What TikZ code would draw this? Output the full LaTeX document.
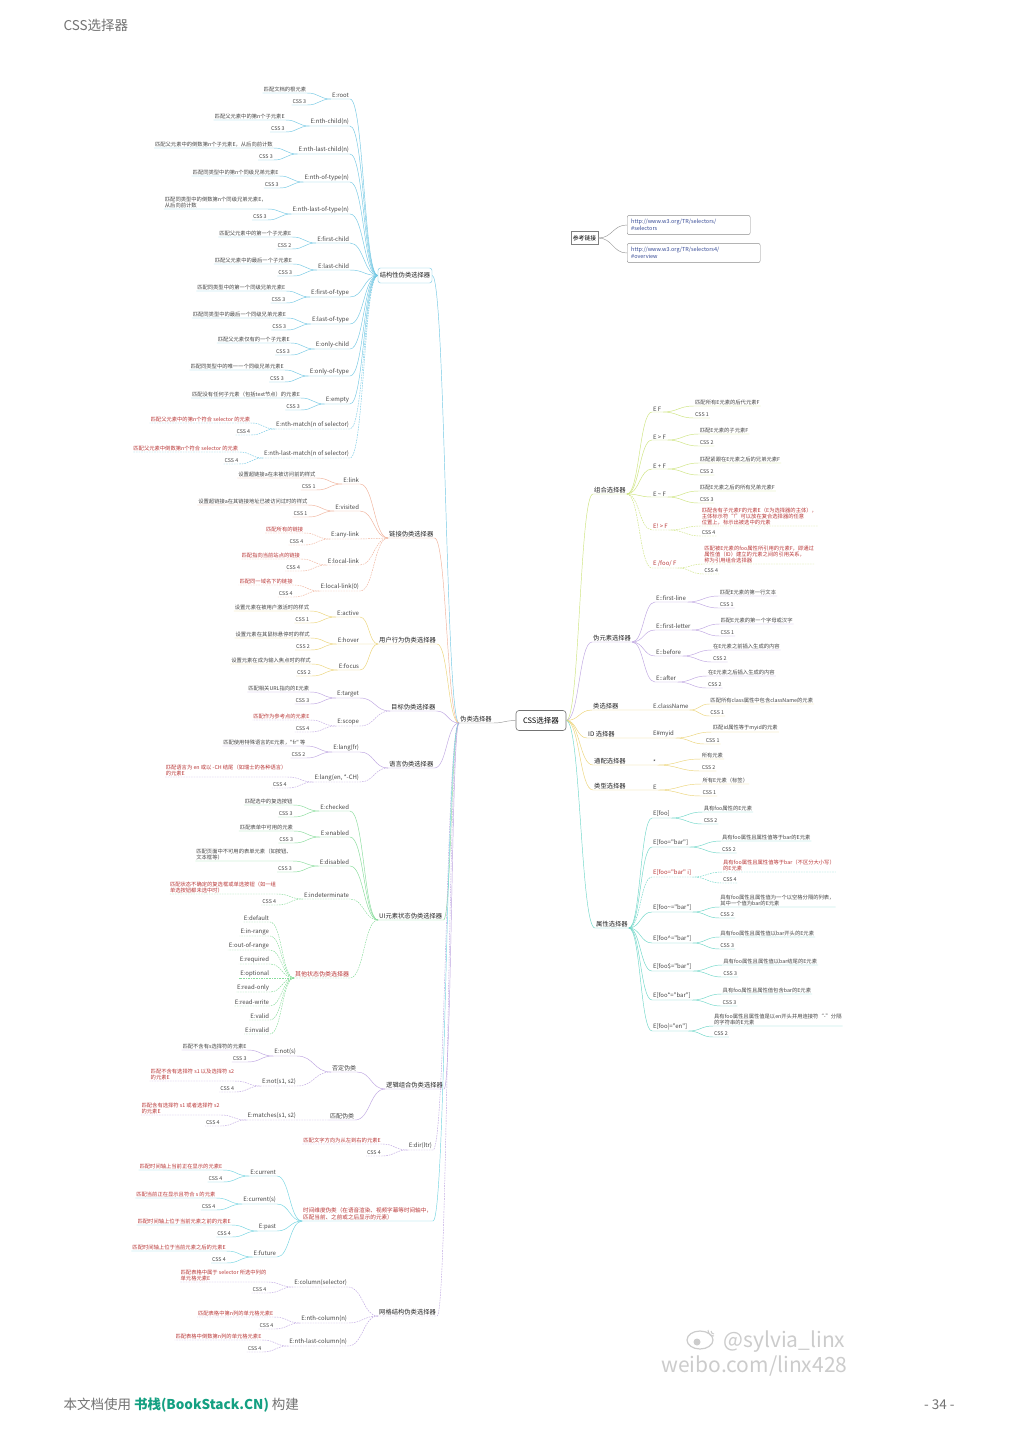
\documentclass[tikz,border=0pt]{standalone}
\usepackage{fontspec}
\setmainfont{Noto Sans CJK SC}[Ligatures=TeXOff]
\usepackage{tikz}
\usetikzlibrary{positioning,calc}

\definecolor{cyanln}{RGB}{115,200,228}
\definecolor{orgln}{RGB}{240,178,155}
\definecolor{yelln}{RGB}{236,212,120}
\definecolor{purln}{RGB}{190,165,225}
\definecolor{grnln}{RGB}{135,220,155}
\definecolor{tealln}{RGB}{115,212,225}
\definecolor{ygrln}{RGB}{205,228,125}
\definecolor{atrln}{RGB}{110,215,200}
\definecolor{cssred}{RGB}{185,55,55}
\definecolor{txtgray}{RGB}{70,70,70}
\definecolor{linkblue}{RGB}{55,75,150}
\definecolor{bsgreen}{RGB}{20,160,130}

\begin{document}
\begin{tikzpicture}[x=1pt, y=-1pt,
    lbl/.style={inner sep=0.8pt, font=\fontsize{6}{7}\selectfont, text=txtgray},
    dsc/.style={inner sep=0.8pt, font=\fontsize{5.3}{6.2}\selectfont, text=txtgray, align=left},
    rd/.style={text=cssred},
    cat/.style={inner sep=1pt, font=\fontsize{6.3}{7.5}\selectfont, text=black!85},
    curv/.style={to path={.. controls ($(\tikztostart)!0.5!(\tikztostart-|\tikztotarget)$) and ($(\tikztotarget)!0.5!(\tikztotarget-|\tikztostart)$) .. (\tikztotarget)}},
    ln/.style={line width=0.45pt},
    blu/.style={ln, draw=cyanln},
    org/.style={ln, draw=orgln},
    yel/.style={ln, draw=yelln},
    pur/.style={ln, draw=purln},
    grn/.style={ln, draw=grnln},
    tea/.style={ln, draw=tealln},
    ygr/.style={ln, draw=ygrln},
    atr/.style={ln, draw=atrln},
    gry/.style={ln, draw=black!40},
    dsh/.style={dash pattern=on 1.6pt off 1pt},
  ]
    \useasboundingbox (0,0) rectangle (1019,1440);
    \fill[white] (0,0) rectangle (1019,1440);

    % page header and footer
    \node[anchor=west, font=\fontsize{13.5}{15}\selectfont, text=black!55] (hd) at (60,25) {CSS选择器};
    \node[anchor=west, font=\fontsize{13.5}{15}\selectfont, text=black!55] (ft) at (60,1405) {本文档使用 \textcolor{bsgreen}{\bfseries 书栈(BookStack.CN)} 构建};
    \node[anchor=east, font=\fontsize{13.5}{15}\selectfont, text=black!55] (pg) at (958,1405) {- 34 -};

    % centre
    \node[draw=black!55, rounded corners=3pt, line width=0.6pt, minimum width=50pt, minimum height=20pt, font=\fontsize{7.5}{9}\selectfont] (css) at (541,720.5) {CSS选择器};
    \node[cat, anchor=south west] (wl) at (459,723) {伪类选择器};
    \draw[gry] (css.west) to[curv] (wl.south east) -- (wl.south west);

    % structural pseudo-classes
    \node[cat, draw=cyanln, rounded corners=2.5pt, minimum width=54pt, minimum height=15pt] (jg) at (405,275.5) {结构性伪类选择器};
    \draw[blu] (wl.south west) to[curv] (jg.east);

    \node[lbl, anchor=south east] (jg1) at (350,99) {E:root};
    \node[dsc, above left=6pt and 24pt of jg1.south west] (jg1d) {匹配文档的根元素};
    \node[dsc, above left=-6pt and 24pt of jg1.south west] (jg1c) {CSS 3};
    \draw[blu] (jg.west) to[curv] (jg1.south east) -- (jg1.south west) to[curv] (jg1d.south east) -- (jg1d.south west) (jg1.south west) to[curv] (jg1c.south east) -- (jg1c.south west);

    \node[lbl, anchor=south east] (jg2) at (350,126) {E:nth-child(n)};
    \node[dsc, above left=6pt and 24pt of jg2.south west] (jg2d) {匹配父元素中的第n个子元素E};
    \node[dsc, above left=-6pt and 24pt of jg2.south west] (jg2c) {CSS 3};
    \draw[blu] (jg.west) to[curv] (jg2.south east) -- (jg2.south west) to[curv] (jg2d.south east) -- (jg2d.south west) (jg2.south west) to[curv] (jg2c.south east) -- (jg2c.south west);

    \node[lbl, anchor=south east] (jg3) at (350,154) {E:nth-last-child(n)};
    \node[dsc, above left=6pt and 24pt of jg3.south west] (jg3d) {匹配父元素中的倒数第n个子元素E，从后向前计数};
    \node[dsc, above left=-6pt and 24pt of jg3.south west] (jg3c) {CSS 3};
    \draw[blu] (jg.west) to[curv] (jg3.south east) -- (jg3.south west) to[curv] (jg3d.south east) -- (jg3d.south west) (jg3.south west) to[curv] (jg3c.south east) -- (jg3c.south west);

    \node[lbl, anchor=south east] (jg4) at (350,182) {E:nth-of-type(n)};
    \node[dsc, above left=6pt and 24pt of jg4.south west] (jg4d) {匹配同类型中的第n个同级兄弟元素E};
    \node[dsc, above left=-6pt and 24pt of jg4.south west] (jg4c) {CSS 3};
    \draw[blu] (jg.west) to[curv] (jg4.south east) -- (jg4.south west) to[curv] (jg4d.south east) -- (jg4d.south west) (jg4.south west) to[curv] (jg4c.south east) -- (jg4c.south west);

    \node[lbl, anchor=south east] (jg5) at (350,214) {E:nth-last-of-type(n)};
    \node[dsc, above left=5pt and 24pt of jg5.south west] (jg5d) {匹配同类型中的倒数第n个同级兄弟元素E，\\从后向前计数};
    \node[dsc, above left=-6pt and 24pt of jg5.south west] (jg5c) {CSS 3};
    \draw[blu] (jg.west) to[curv] (jg5.south east) -- (jg5.south west) to[curv] (jg5d.south east) -- (jg5d.south west) (jg5.south west) to[curv] (jg5c.south east) -- (jg5c.south west);

    \node[lbl, anchor=south east] (jg6) at (350,243) {E:first-child};
    \node[dsc, above left=6pt and 24pt of jg6.south west] (jg6d) {匹配父元素中的第一个子元素E};
    \node[dsc, above left=-6pt and 24pt of jg6.south west] (jg6c) {CSS 2};
    \draw[blu] (jg.west) to[curv] (jg6.south east) -- (jg6.south west) to[curv] (jg6d.south east) -- (jg6d.south west) (jg6.south west) to[curv] (jg6c.south east) -- (jg6c.south west);

    \node[lbl, anchor=south east] (jg7) at (350,270) {E:last-child};
    \node[dsc, above left=6pt and 24pt of jg7.south west] (jg7d) {匹配父元素中的最后一个子元素E};
    \node[dsc, above left=-6pt and 24pt of jg7.south west] (jg7c) {CSS 3};
    \draw[blu] (jg.west) to[curv] (jg7.south east) -- (jg7.south west) to[curv] (jg7d.south east) -- (jg7d.south west) (jg7.south west) to[curv] (jg7c.south east) -- (jg7c.south west);

    \node[lbl, anchor=south east] (jg8) at (350,297) {E:first-of-type};
    \node[dsc, above left=6pt and 24pt of jg8.south west] (jg8d) {匹配同类型中的第一个同级兄弟元素E};
    \node[dsc, above left=-6pt and 24pt of jg8.south west] (jg8c) {CSS 3};
    \draw[blu] (jg.west) to[curv] (jg8.south east) -- (jg8.south west) to[curv] (jg8d.south east) -- (jg8d.south west) (jg8.south west) to[curv] (jg8c.south east) -- (jg8c.south west);

    \node[lbl, anchor=south east] (jg9) at (350,324) {E:last-of-type};
    \node[dsc, above left=6pt and 24pt of jg9.south west] (jg9d) {匹配同类型中的最后一个同级兄弟元素E};
    \node[dsc, above left=-6pt and 24pt of jg9.south west] (jg9c) {CSS 3};
    \draw[blu] (jg.west) to[curv] (jg9.south east) -- (jg9.south west) to[curv] (jg9d.south east) -- (jg9d.south west) (jg9.south west) to[curv] (jg9c.south east) -- (jg9c.south west);

    \node[lbl, anchor=south east] (jg10) at (350,349) {E:only-child};
    \node[dsc, above left=6pt and 24pt of jg10.south west] (jg10d) {匹配父元素仅有的一个子元素E};
    \node[dsc, above left=-6pt and 24pt of jg10.south west] (jg10c) {CSS 3};
    \draw[blu] (jg.west) to[curv] (jg10.south east) -- (jg10.south west) to[curv] (jg10d.south east) -- (jg10d.south west) (jg10.south west) to[curv] (jg10c.south east) -- (jg10c.south west);

    \node[lbl, anchor=south east] (jg11) at (350,376) {E:only-of-type};
    \node[dsc, above left=6pt and 24pt of jg11.south west] (jg11d) {匹配同类型中的唯一一个同级兄弟元素E};
    \node[dsc, above left=-6pt and 24pt of jg11.south west] (jg11c) {CSS 3};
    \draw[blu] (jg.west) to[curv] (jg11.south east) -- (jg11.south west) to[curv] (jg11d.south east) -- (jg11d.south west) (jg11.south west) to[curv] (jg11c.south east) -- (jg11c.south west);

    \node[lbl, anchor=south east] (jg12) at (350,404) {E:empty};
    \node[dsc, above left=6pt and 24pt of jg12.south west] (jg12d) {匹配没有任何子元素（包括text节点）的元素E};
    \node[dsc, above left=-6pt and 24pt of jg12.south west] (jg12c) {CSS 3};
    \draw[blu] (jg.west) to[curv] (jg12.south east) -- (jg12.south west) to[curv] (jg12d.south east) -- (jg12d.south west) (jg12.south west) to[curv] (jg12c.south east) -- (jg12c.south west);

    \node[lbl, anchor=south east] (jg13) at (350,429) {E:nth-match(n of selector)};
    \node[dsc, rd, above left=6pt and 24pt of jg13.south west] (jg13d) {匹配父元素中的第n个符合 selector 的元素};
    \node[dsc, above left=-6pt and 24pt of jg13.south west] (jg13c) {CSS 4};
    \draw[blu, dsh] (jg.west) to[curv] (jg13.south east) -- (jg13.south west) to[curv] (jg13d.south east) -- (jg13d.south west) (jg13.south west) to[curv] (jg13c.south east) -- (jg13c.south west);

    \node[lbl, anchor=south east] (jg14) at (350,458) {E:nth-last-match(n of selector)};
    \node[dsc, rd, above left=6pt and 24pt of jg14.south west] (jg14d) {匹配父元素中倒数第n个符合 selector 的元素};
    \node[dsc, above left=-6pt and 24pt of jg14.south west] (jg14c) {CSS 4};
    \draw[blu, dsh] (jg.west) to[curv] (jg14.south east) -- (jg14.south west) to[curv] (jg14d.south east) -- (jg14d.south west) (jg14.south west) to[curv] (jg14c.south east) -- (jg14c.south west);

    % link pseudo-classes
    \node[cat, anchor=south west] (lj) at (388,538) {链接伪类选择器};
    \draw[org] (wl.south west) to[curv] (lj.south east) -- (lj.south west);

    \node[lbl, anchor=south east] (lj1) at (360,484) {E:link};
    \node[dsc, above left=6pt and 26pt of lj1.south west] (lj1d) {设置超链接a在未被访问前的样式};
    \node[dsc, above left=-6pt and 26pt of lj1.south west] (lj1c) {CSS 1};
    \draw[org] (lj.south west) to[curv] (lj1.south east) -- (lj1.south west) to[curv] (lj1d.south east) -- (lj1d.south west) (lj1.south west) to[curv] (lj1c.south east) -- (lj1c.south west);

    \node[lbl, anchor=south east] (lj2) at (360,511) {E:visited};
    \node[dsc, above left=6pt and 26pt of lj2.south west] (lj2d) {设置超链接a在其链接地址已被访问过时的样式};
    \node[dsc, above left=-6pt and 26pt of lj2.south west] (lj2c) {CSS 1};
    \draw[org] (lj.south west) to[curv] (lj2.south east) -- (lj2.south west) to[curv] (lj2d.south east) -- (lj2d.south west) (lj2.south west) to[curv] (lj2c.south east) -- (lj2c.south west);

    \node[lbl, anchor=south east] (lj3) at (360,539) {E:any-link};
    \node[dsc, rd, above left=6pt and 26pt of lj3.south west] (lj3d) {匹配所有的链接};
    \node[dsc, above left=-6pt and 26pt of lj3.south west] (lj3c) {CSS 4};
    \draw[org, dsh] (lj.south west) to[curv] (lj3.south east) -- (lj3.south west) to[curv] (lj3d.south east) -- (lj3d.south west) (lj3.south west) to[curv] (lj3c.south east) -- (lj3c.south west);

    \node[lbl, anchor=south east] (lj4) at (360,565) {E:local-link};
    \node[dsc, rd, above left=6pt and 26pt of lj4.south west] (lj4d) {匹配指向当前站点的链接};
    \node[dsc, above left=-6pt and 26pt of lj4.south west] (lj4c) {CSS 4};
    \draw[org, dsh] (lj.south west) to[curv] (lj4.south east) -- (lj4.south west) to[curv] (lj4d.south east) -- (lj4d.south west) (lj4.south west) to[curv] (lj4c.south east) -- (lj4c.south west);

    \node[lbl, anchor=south east] (lj5) at (360,591) {E:local-link(0)};
    \node[dsc, rd, above left=6pt and 26pt of lj5.south west] (lj5d) {匹配同一域名下的链接};
    \node[dsc, above left=-6pt and 26pt of lj5.south west] (lj5c) {CSS 4};
    \draw[org, dsh] (lj.south west) to[curv] (lj5.south east) -- (lj5.south west) to[curv] (lj5d.south east) -- (lj5d.south west) (lj5.south west) to[curv] (lj5c.south east) -- (lj5c.south west);

    % user action pseudo-classes
    \node[cat, anchor=south west] (yh) at (378,644) {用户行为伪类选择器};
    \draw[yel] (wl.south west) to[curv] (yh.south east) -- (yh.south west);

    \node[lbl, anchor=south east] (yh1) at (360,617) {E:active};
    \node[dsc, above left=6pt and 26pt of yh1.south west] (yh1d) {设置元素在被用户激活时的样式};
    \node[dsc, above left=-6pt and 26pt of yh1.south west] (yh1c) {CSS 1};
    \draw[yel] (yh.south west) to[curv] (yh1.south east) -- (yh1.south west) to[curv] (yh1d.south east) -- (yh1d.south west) (yh1.south west) to[curv] (yh1c.south east) -- (yh1c.south west);

    \node[lbl, anchor=south east] (yh2) at (360,644) {E:hover};
    \node[dsc, above left=6pt and 26pt of yh2.south west] (yh2d) {设置元素在其鼠标悬停时的样式};
    \node[dsc, above left=-6pt and 26pt of yh2.south west] (yh2c) {CSS 2};
    \draw[yel] (yh.south west) to[curv] (yh2.south east) -- (yh2.south west) to[curv] (yh2d.south east) -- (yh2d.south west) (yh2.south west) to[curv] (yh2c.south east) -- (yh2c.south west);

    \node[lbl, anchor=south east] (yh3) at (360,670) {E:focus};
    \node[dsc, above left=6pt and 26pt of yh3.south west] (yh3d) {设置元素在成为输入焦点时的样式};
    \node[dsc, above left=-6pt and 26pt of yh3.south west] (yh3c) {CSS 2};
    \draw[yel] (yh.south west) to[curv] (yh3.south east) -- (yh3.south west) to[curv] (yh3d.south east) -- (yh3d.south west) (yh3.south west) to[curv] (yh3c.south east) -- (yh3c.south west);

    % target pseudo-classes
    \node[cat, anchor=south west] (mb) at (390,711) {目标伪类选择器};
    \draw[pur] (wl.south west) to[curv] (mb.south east) -- (mb.south west);

    \node[lbl, anchor=south east] (mb1) at (360,698) {E:target};
    \node[dsc, above left=6pt and 26pt of mb1.south west] (mb1d) {匹配相关URL指向的E元素};
    \node[dsc, above left=-6pt and 26pt of mb1.south west] (mb1c) {CSS 3};
    \draw[pur] (mb.south west) to[curv] (mb1.south east) -- (mb1.south west) to[curv] (mb1d.south east) -- (mb1d.south west) (mb1.south west) to[curv] (mb1c.south east) -- (mb1c.south west);

    \node[lbl, anchor=south east] (mb2) at (360,726) {E:scope};
    \node[dsc, rd, above left=6pt and 26pt of mb2.south west] (mb2d) {匹配作为参考点的元素E};
    \node[dsc, above left=-6pt and 26pt of mb2.south west] (mb2c) {CSS 4};
    \draw[pur, dsh] (mb.south west) to[curv] (mb2.south east) -- (mb2.south west) to[curv] (mb2d.south east) -- (mb2d.south west) (mb2.south west) to[curv] (mb2c.south east) -- (mb2c.south west);

    % language pseudo-classes
    \node[cat, anchor=south west] (yy) at (388,768) {语言伪类选择器};
    \draw[pur] (wl.south west) to[curv] (yy.south east) -- (yy.south west);

    \node[lbl, anchor=south east] (yy1) at (360,752) {E:lang(fr)};
    \node[dsc, above left=6pt and 26pt of yy1.south west] (yy1d) {匹配使用特殊语言的E元素，"fr" 等};
    \node[dsc, above left=-6pt and 26pt of yy1.south west] (yy1c) {CSS 2};
    \draw[pur] (yy.south west) to[curv] (yy1.south east) -- (yy1.south west) to[curv] (yy1d.south east) -- (yy1d.south west) (yy1.south west) to[curv] (yy1c.south east) -- (yy1c.south west);

    \node[lbl, anchor=south east] (yy2) at (360,782) {E:lang(en, *-CH)};
    \node[dsc, rd, above left=5pt and 26pt of yy2.south west] (yy2d) {匹配语言为 en 或以 -CH 结尾（如瑞士的各种语言）\\的元素E};
    \node[dsc, above left=-6pt and 26pt of yy2.south west] (yy2c) {CSS 4};
    \draw[pur, dsh] (yy.south west) to[curv] (yy2.south east) -- (yy2.south west) to[curv] (yy2d.south east) -- (yy2d.south west) (yy2.south west) to[curv] (yy2c.south east) -- (yy2c.south west);

    % UI state pseudo-classes
    \node[cat, anchor=south west] (ui) at (378,920) {UI元素状态伪类选择器};
    \draw[grn] (wl.south west) to[curv] (ui.south east) -- (ui.south west);

    \node[lbl, anchor=south east] (ui1) at (350,811) {E:checked};
    \node[dsc, above left=6pt and 26pt of ui1.south west] (ui1d) {匹配选中的复选按钮};
    \node[dsc, above left=-6pt and 26pt of ui1.south west] (ui1c) {CSS 3};
    \draw[grn] (ui.south west) to[curv] (ui1.south east) -- (ui1.south west) to[curv] (ui1d.south east) -- (ui1d.south west) (ui1.south west) to[curv] (ui1c.south east) -- (ui1c.south west);

    \node[lbl, anchor=south east] (ui2) at (350,837) {E:enabled};
    \node[dsc, above left=6pt and 26pt of ui2.south west] (ui2d) {匹配表单中可用的元素};
    \node[dsc, above left=-6pt and 26pt of ui2.south west] (ui2c) {CSS 3};
    \draw[grn] (ui.south west) to[curv] (ui2.south east) -- (ui2.south west) to[curv] (ui2d.south east) -- (ui2d.south west) (ui2.south west) to[curv] (ui2c.south east) -- (ui2c.south west);

    \node[lbl, anchor=south east] (ui3) at (350,866) {E:disabled};
    \node[dsc, above left=5pt and 26pt of ui3.south west] (ui3d) {匹配页面中不可用的表单元素（如按钮、\\文本框等）};
    \node[dsc, above left=-6pt and 26pt of ui3.south west] (ui3c) {CSS 3};
    \draw[grn] (ui.south west) to[curv] (ui3.south east) -- (ui3.south west) to[curv] (ui3d.south east) -- (ui3d.south west) (ui3.south west) to[curv] (ui3c.south east) -- (ui3c.south west);

    \node[lbl, anchor=south east] (ui4) at (350,899) {E:indeterminate};
    \node[dsc, rd, above left=5pt and 26pt of ui4.south west] (ui4d) {匹配状态不确定的复选框或单选按钮（如一组\\单选按钮都未选中时）};
    \node[dsc, above left=-6pt and 26pt of ui4.south west] (ui4c) {CSS 4};
    \draw[grn, dsh] (ui.south west) to[curv] (ui4.south east) -- (ui4.south west) to[curv] (ui4d.south east) -- (ui4d.south west) (ui4.south west) to[curv] (ui4c.south east) -- (ui4c.south west);

    \node[lbl, rd, anchor=south east] (qt) at (350,978) {其他状态伪类选择器};
    \draw[grn, dsh] (ui.south west) to[curv] (qt.south east) -- (qt.south west);
    \node[lbl, anchor=south east] (qt1) at (270,922) {E:default};
    \node[lbl, anchor=south east] (qt2) at (270,936) {E:in-range};
    \node[lbl, anchor=south east] (qt3) at (270,950) {E:out-of-range};
    \node[lbl, anchor=south east] (qt4) at (270,964) {E:required};
    \node[lbl, anchor=south east] (qt5) at (270,978) {E:optional};
    \node[lbl, anchor=south east] (qt6) at (270,992) {E:read-only};
    \node[lbl, anchor=south east] (qt7) at (270,1006) {E:read-write};
    \node[lbl, anchor=south east] (qt8) at (270,1020) {E:valid};
    \node[lbl, anchor=south east] (qt9) at (270,1034) {E:invalid};
    \draw[grn, dsh] (qt.south west) to[curv] (qt1.south east) -- (qt1.south west);
    \draw[grn, dsh] (qt.south west) to[curv] (qt2.south east) -- (qt2.south west);
    \draw[grn, dsh] (qt.south west) to[curv] (qt3.south east) -- (qt3.south west);
    \draw[grn, dsh] (qt.south west) to[curv] (qt4.south east) -- (qt4.south west);
    \draw[grn, dsh] (qt.south west) to[curv] (qt5.south east) -- (qt5.south west);
    \draw[grn, dsh] (qt.south west) to[curv] (qt6.south east) -- (qt6.south west);
    \draw[grn, dsh] (qt.south west) to[curv] (qt7.south east) -- (qt7.south west);
    \draw[grn, dsh] (qt.south west) to[curv] (qt8.south east) -- (qt8.south west);
    \draw[grn, dsh] (qt.south west) to[curv] (qt9.south east) -- (qt9.south west);

    % logical combination pseudo-classes
    \node[cat, anchor=south west] (lz) at (385,1089) {逻辑组合伪类选择器};
    \draw[pur] (wl.south west) to[curv] (lz.south east) -- (lz.south west);

    \node[lbl, anchor=south east] (fd) at (357,1072) {否定伪类};
    \draw[pur] (lz.south west) to[curv] (fd.south east) -- (fd.south west);
    \node[lbl, anchor=south east] (fd1) at (297,1056) {E:not(s)};
    \node[dsc, above left=6pt and 26pt of fd1.south west] (fd1d) {匹配不含有s选择符的元素E};
    \node[dsc, above left=-6pt and 26pt of fd1.south west] (fd1c) {CSS 3};
    \draw[pur] (fd.south west) to[curv] (fd1.south east) -- (fd1.south west) to[curv] (fd1d.south east) -- (fd1d.south west) (fd1.south west) to[curv] (fd1c.south east) -- (fd1c.south west);
    \node[lbl, anchor=south east] (fd2) at (297,1086) {E:not(s1, s2)};
    \node[dsc, rd, above left=5pt and 26pt of fd2.south west] (fd2d) {匹配不含有选择符 s1 以及选择符 s2\\的元素E};
    \node[dsc, above left=-6pt and 26pt of fd2.south west] (fd2c) {CSS 4};
    \draw[pur, dsh] (fd.south west) to[curv] (fd2.south east) -- (fd2.south west) to[curv] (fd2d.south east) -- (fd2d.south west) (fd2.south west) to[curv] (fd2c.south east) -- (fd2c.south west);

    \node[lbl, anchor=south east] (pp) at (355,1120) {匹配伪类};
    \draw[pur] (lz.south west) to[curv] (pp.south east) -- (pp.south west);
    \node[lbl, anchor=south east] (pp1) at (297,1120) {E:matches(s1, s2)};
    \node[dsc, rd, above left=5pt and 26pt of pp1.south west] (pp1d) {匹配含有选择符 s1 或者选择符 s2\\的元素E};
    \node[dsc, above left=-6pt and 26pt of pp1.south west] (pp1c) {CSS 4};
    \draw[pur, dsh] (pp.south west) to[curv] (pp1.south east) -- (pp1.south west) to[curv] (pp1d.south east) -- (pp1d.south west) (pp1.south west) to[curv] (pp1c.south east) -- (pp1c.south west);

    % directionality
    \node[lbl, anchor=south east] (dir) at (433,1150) {E:dir(ltr)};
    \node[dsc, rd, above left=6pt and 26pt of dir.south west] (dird) {匹配文字方向为从左到右的元素E};
    \node[dsc, above left=-6pt and 26pt of dir.south west] (dirc) {CSS 4};
    \draw[pur, dsh] (wl.south west) to[curv] (dir.south east) -- (dir.south west) to[curv] (dird.south east) -- (dird.south west) (dir.south west) to[curv] (dirc.south east) -- (dirc.south west);

    % time-dimensional pseudo-classes
    \node[dsc, rd, anchor=south east, font=\fontsize{5.6}{6.6}\selectfont] (sj) at (433,1221) {时间维度伪类（在语音渲染、视频字幕等时间轴中，\\匹配当前、之前或之后显示的元素）};
    \draw[tea] (wl.south west) to[curv] (sj.south east) -- (sj.south west);

    \node[lbl, anchor=south east] (sj1) at (277,1176) {E:current};
    \node[dsc, rd, above left=6pt and 26pt of sj1.south west] (sj1d) {匹配时间轴上当前正在显示的元素E};
    \node[dsc, above left=-6pt and 26pt of sj1.south west] (sj1c) {CSS 4};
    \draw[tea] (sj.south west) to[curv] (sj1.south east) -- (sj1.south west) to[curv] (sj1d.south east) -- (sj1d.south west) (sj1.south west) to[curv] (sj1c.south east) -- (sj1c.south west);

    \node[lbl, anchor=south east] (sj2) at (277,1204) {E:current(s)};
    \node[dsc, rd, above left=6pt and 26pt of sj2.south west] (sj2d) {匹配当前正在显示且符合 s 的元素};
    \node[dsc, above left=-6pt and 26pt of sj2.south west] (sj2c) {CSS 4};
    \draw[tea] (sj.south west) to[curv] (sj2.south east) -- (sj2.south west) to[curv] (sj2d.south east) -- (sj2d.south west) (sj2.south west) to[curv] (sj2c.south east) -- (sj2c.south west);

    \node[lbl, anchor=south east] (sj3) at (277,1231) {E:past};
    \node[dsc, rd, above left=6pt and 26pt of sj3.south west] (sj3d) {匹配时间轴上位于当前元素之前的元素E};
    \node[dsc, above left=-6pt and 26pt of sj3.south west] (sj3c) {CSS 4};
    \draw[tea] (sj.south west) to[curv] (sj3.south east) -- (sj3.south west) to[curv] (sj3d.south east) -- (sj3d.south west) (sj3.south west) to[curv] (sj3c.south east) -- (sj3c.south west);

    \node[lbl, anchor=south east] (sj4) at (277,1257) {E:future};
    \node[dsc, rd, above left=6pt and 26pt of sj4.south west] (sj4d) {匹配时间轴上位于当前元素之后的元素E};
    \node[dsc, above left=-6pt and 26pt of sj4.south west] (sj4c) {CSS 4};
    \draw[tea] (sj.south west) to[curv] (sj4.south east) -- (sj4.south west) to[curv] (sj4d.south east) -- (sj4d.south west) (sj4.south west) to[curv] (sj4c.south east) -- (sj4c.south west);

    % grid-structural pseudo-classes
    \node[cat, anchor=south west] (wg) at (378,1316) {网格结构伪类选择器};
    \draw[pur, dsh] (wl.south west) to[curv] (wg.south east) -- (wg.south west);

    \node[lbl, anchor=south east] (wg1) at (348,1287) {E:column(selector)};
    \node[dsc, rd, above left=5pt and 26pt of wg1.south west] (wg1d) {匹配表格中属于 selector 所选中列的\\单元格元素E};
    \node[dsc, above left=-6pt and 26pt of wg1.south west] (wg1c) {CSS 4};
    \draw[pur, dsh] (wg.south west) to[curv] (wg1.south east) -- (wg1.south west) to[curv] (wg1d.south east) -- (wg1d.south west) (wg1.south west) to[curv] (wg1c.south east) -- (wg1c.south west);

    \node[lbl, anchor=south east] (wg2) at (348,1323) {E:nth-column(n)};
    \node[dsc, rd, above left=6pt and 26pt of wg2.south west] (wg2d) {匹配表格中第n列的单元格元素E};
    \node[dsc, above left=-6pt and 26pt of wg2.south west] (wg2c) {CSS 4};
    \draw[pur, dsh] (wg.south west) to[curv] (wg2.south east) -- (wg2.south west) to[curv] (wg2d.south east) -- (wg2d.south west) (wg2.south west) to[curv] (wg2c.south east) -- (wg2c.south west);

    \node[lbl, anchor=south east] (wg3) at (348,1346) {E:nth-last-column(n)};
    \node[dsc, rd, above left=6pt and 26pt of wg3.south west] (wg3d) {匹配表格中倒数第n列的单元格元素E};
    \node[dsc, above left=-6pt and 26pt of wg3.south west] (wg3c) {CSS 4};
    \draw[pur, dsh] (wg.south west) to[curv] (wg3.south east) -- (wg3.south west) to[curv] (wg3d.south east) -- (wg3d.south west) (wg3.south west) to[curv] (wg3c.south east) -- (wg3c.south west);

    % references
    \node[draw=black!50, minimum width=27pt, minimum height=13pt, inner sep=1pt, font=\fontsize{5.8}{7}\selectfont] (ck) at (584.5,238) {参考链接};
    \node[draw=black!45, rounded corners=2pt, anchor=west, align=left, text width=115pt, inner sep=4pt, text=linkblue, font=\fontsize{5.5}{6.8}\selectfont] (u1) at (627,225) {http://www.w3.org/TR/selectors/\\\#selectors};
    \node[draw=black!45, rounded corners=2pt, anchor=west, align=left, text width=125pt, inner sep=4pt, text=linkblue, font=\fontsize{5.5}{6.8}\selectfont] (u2) at (627,253) {http://www.w3.org/TR/selectors4/\\\#overview};
    \draw[gry] (ck.east) to[curv] (u1.west);
    \draw[gry] (ck.east) to[curv] (u2.west);

    % combinators
    \node[cat, anchor=south west] (zh) at (593,494) {组合选择器};
    \draw[ygr] (css.east) to[curv] (zh.south west) -- (zh.south east);

    \node[lbl, anchor=south west] (zh1) at (652,412) {E F};
    \node[dsc, above right=6pt and 32pt of zh1.south east] (zh1d) {匹配所有E元素的后代元素F};
    \node[dsc, above right=-6pt and 32pt of zh1.south east] (zh1c) {CSS 1};
    \draw[ygr] (zh.south east) to[curv] (zh1.south west) -- (zh1.south east) to[curv] (zh1d.south west) -- (zh1d.south east) (zh1.south east) to[curv] (zh1c.south west) -- (zh1c.south east);

    \node[lbl, anchor=south west] (zh2) at (652,440) {E > F};
    \node[dsc, above right=6pt and 32pt of zh2.south east] (zh2d) {匹配E元素的子元素F};
    \node[dsc, above right=-6pt and 32pt of zh2.south east] (zh2c) {CSS 2};
    \draw[ygr] (zh.south east) to[curv] (zh2.south west) -- (zh2.south east) to[curv] (zh2d.south west) -- (zh2d.south east) (zh2.south east) to[curv] (zh2c.south west) -- (zh2c.south east);

    \node[lbl, anchor=south west] (zh3) at (652,469) {E + F};
    \node[dsc, above right=6pt and 32pt of zh3.south east] (zh3d) {匹配紧跟在E元素之后的兄弟元素F};
    \node[dsc, above right=-6pt and 32pt of zh3.south east] (zh3c) {CSS 2};
    \draw[ygr] (zh.south east) to[curv] (zh3.south west) -- (zh3.south east) to[curv] (zh3d.south west) -- (zh3d.south east) (zh3.south east) to[curv] (zh3c.south west) -- (zh3c.south east);

    \node[lbl, anchor=south west] (zh4) at (652,497) {E \textasciitilde{} F};
    \node[dsc, above right=6pt and 32pt of zh4.south east] (zh4d) {匹配E元素之后的所有兄弟元素F};
    \node[dsc, above right=-6pt and 32pt of zh4.south east] (zh4c) {CSS 3};
    \draw[ygr] (zh.south east) to[curv] (zh4.south west) -- (zh4.south east) to[curv] (zh4d.south west) -- (zh4d.south east) (zh4.south east) to[curv] (zh4c.south west) -- (zh4c.south east);

    \node[lbl, rd, anchor=south west] (zh5) at (652,530) {E! > F};
    \node[dsc, rd, above right=4pt and 32pt of zh5.south east] (zh5d) {匹配含有子元素F的元素E（E为选择器的主体），\\主体标示符“!”可以放在复合选择器的任意\\位置上，标示出被选中的元素};
    \node[dsc, above right=-6pt and 32pt of zh5.south east] (zh5c) {CSS 4};
    \draw[ygr, dsh] (zh.south east) to[curv] (zh5.south west) -- (zh5.south east) to[curv] (zh5d.south west) -- (zh5d.south east) (zh5.south east) to[curv] (zh5c.south west) -- (zh5c.south east);

    \node[lbl, rd, anchor=south west] (zh6) at (652,568) {E /foo/ F};
    \node[dsc, rd, above right=4pt and 26pt of zh6.south east] (zh6d) {匹配被E元素的foo属性所引用的元素F，即通过\\属性值（ID）建立的元素之间的引用关系，\\称为引用组合选择器};
    \node[dsc, above right=-6pt and 26pt of zh6.south east] (zh6c) {CSS 4};
    \draw[ygr, dsh] (zh.south east) to[curv] (zh6.south west) -- (zh6.south east) to[curv] (zh6d.south west) -- (zh6d.south east) (zh6.south east) to[curv] (zh6c.south west) -- (zh6c.south east);

    % pseudo-elements
    \node[cat, anchor=south west] (wys) at (592,642) {伪元素选择器};
    \draw[pur] (css.east) to[curv] (wys.south west) -- (wys.south east);

    \node[lbl, anchor=south west] (wys1) at (655,602) {E::first-line};
    \node[dsc, above right=6pt and 32pt of wys1.south east] (wys1d) {匹配E元素的第一行文本};
    \node[dsc, above right=-6pt and 32pt of wys1.south east] (wys1c) {CSS 1};
    \draw[pur] (wys.south east) to[curv] (wys1.south west) -- (wys1.south east) to[curv] (wys1d.south west) -- (wys1d.south east) (wys1.south east) to[curv] (wys1c.south west) -- (wys1c.south east);

    \node[lbl, anchor=south west] (wys2) at (655,630) {E::first-letter};
    \node[dsc, above right=6pt and 28pt of wys2.south east] (wys2d) {匹配E元素的第一个字母或汉字};
    \node[dsc, above right=-6pt and 28pt of wys2.south east] (wys2c) {CSS 1};
    \draw[pur] (wys.south east) to[curv] (wys2.south west) -- (wys2.south east) to[curv] (wys2d.south west) -- (wys2d.south east) (wys2.south east) to[curv] (wys2c.south west) -- (wys2c.south east);

    \node[lbl, anchor=south west] (wys3) at (655,656) {E::before};
    \node[dsc, above right=6pt and 30pt of wys3.south east] (wys3d) {在E元素之前插入生成的内容};
    \node[dsc, above right=-6pt and 30pt of wys3.south east] (wys3c) {CSS 2};
    \draw[pur] (wys.south east) to[curv] (wys3.south west) -- (wys3.south east) to[curv] (wys3d.south west) -- (wys3d.south east) (wys3.south east) to[curv] (wys3c.south west) -- (wys3c.south east);

    \node[lbl, anchor=south west] (wys4) at (655,682) {E::after};
    \node[dsc, above right=6pt and 30pt of wys4.south east] (wys4d) {在E元素之后插入生成的内容};
    \node[dsc, above right=-6pt and 30pt of wys4.south east] (wys4c) {CSS 2};
    \draw[pur] (wys.south east) to[curv] (wys4.south west) -- (wys4.south east) to[curv] (wys4d.south west) -- (wys4d.south east) (wys4.south east) to[curv] (wys4c.south west) -- (wys4c.south east);

    % class, id, universal, type
    \node[cat, anchor=south west] (lei) at (592,710) {类选择器};
    \node[lbl, anchor=south west] (lei1) at (652,710) {E.className};
    \node[dsc, above right=6pt and 20pt of lei1.south east] (lei1d) {匹配所有class属性中包含className的元素};
    \node[dsc, above right=-6pt and 20pt of lei1.south east] (lei1c) {CSS 1};
    \draw[yel] (css.east) to[curv] (lei.south west) -- (lei.south east) to[curv] (lei1.south west) -- (lei1.south east) to[curv] (lei1d.south west) -- (lei1d.south east) (lei1.south east) to[curv] (lei1c.south west) -- (lei1c.south east);

    \node[cat, anchor=south west] (id) at (587,738) {ID 选择器};
    \node[lbl, anchor=south west] (id1) at (652,738) {E\#myid};
    \node[dsc, above right=6pt and 37pt of id1.south east] (id1d) {匹配id属性等于myid的元素};
    \node[dsc, above right=-6pt and 30pt of id1.south east] (id1c) {CSS 1};
    \draw[yel] (css.east) to[curv] (id.south west) -- (id.south east) to[curv] (id1.south west) -- (id1.south east) to[curv] (id1d.south west) -- (id1d.south east) (id1.south east) to[curv] (id1c.south west) -- (id1c.south east);

    \node[cat, anchor=south west] (tp) at (593,765) {通配选择器};
    \node[lbl, anchor=south west] (tp1) at (652,765) {*};
    \node[dsc, above right=6pt and 44pt of tp1.south east] (tp1d) {所有元素};
    \node[dsc, above right=-6pt and 44pt of tp1.south east] (tp1c) {CSS 2};
    \draw[yel] (css.east) to[curv] (tp.south west) -- (tp.south east) to[curv] (tp1.south west) -- (tp1.south east) to[curv] (tp1d.south west) -- (tp1d.south east) (tp1.south east) to[curv] (tp1c.south west) -- (tp1c.south east);

    \node[cat, anchor=south west] (lx) at (593,790) {类型选择器};
    \node[lbl, anchor=south west] (lx1) at (652,790) {E};
    \node[dsc, above right=6pt and 44pt of lx1.south east] (lx1d) {所有E元素（标签）};
    \node[dsc, above right=-6pt and 44pt of lx1.south east] (lx1c) {CSS 1};
    \draw[yel] (css.east) to[curv] (lx.south west) -- (lx.south east) to[curv] (lx1.south west) -- (lx1.south east) to[curv] (lx1d.south west) -- (lx1d.south east) (lx1.south east) to[curv] (lx1c.south west) -- (lx1c.south east);

    % attribute selectors
    \node[cat, anchor=south west] (sx) at (595,928) {属性选择器};
    \draw[atr] (css.east) to[curv] (sx.south west) -- (sx.south east);

    \node[lbl, anchor=south west] (sx1) at (652,818) {E[foo]};
    \node[dsc, above right=6pt and 32pt of sx1.south east] (sx1d) {具有foo属性的E元素};
    \node[dsc, above right=-6pt and 32pt of sx1.south east] (sx1c) {CSS 2};
    \draw[atr] (sx.south east) to[curv] (sx1.south west) -- (sx1.south east) to[curv] (sx1d.south west) -- (sx1d.south east) (sx1.south east) to[curv] (sx1c.south west) -- (sx1c.south east);

    \node[lbl, anchor=south west] (sx2) at (652,847) {E[foo="bar"]};
    \node[dsc, above right=6pt and 32pt of sx2.south east] (sx2d) {具有foo属性且属性值等于bar的E元素};
    \node[dsc, above right=-6pt and 32pt of sx2.south east] (sx2c) {CSS 2};
    \draw[atr] (sx.south east) to[curv] (sx2.south west) -- (sx2.south east) to[curv] (sx2d.south west) -- (sx2d.south east) (sx2.south east) to[curv] (sx2c.south west) -- (sx2c.south east);

    \node[lbl, rd, anchor=south west] (sx3) at (652,877) {E[foo="bar" i]};
    \node[dsc, rd, above right=5pt and 30pt of sx3.south east] (sx3d) {具有foo属性且属性值等于bar（不区分大小写）\\的E元素};
    \node[dsc, above right=-6pt and 30pt of sx3.south east] (sx3c) {CSS 4};
    \draw[atr, dsh] (sx.south east) to[curv] (sx3.south west) -- (sx3.south east) to[curv] (sx3d.south west) -- (sx3d.south east) (sx3.south east) to[curv] (sx3c.south west) -- (sx3c.south east);

    \node[lbl, anchor=south west] (sx4) at (652,912) {E[foo\textasciitilde="bar"]};
    \node[dsc, above right=5pt and 27pt of sx4.south east] (sx4d) {具有foo属性且属性值为一个以空格分隔的列表，\\其中一个值为bar的E元素};
    \node[dsc, above right=-6pt and 27pt of sx4.south east] (sx4c) {CSS 2};
    \draw[atr] (sx.south east) to[curv] (sx4.south west) -- (sx4.south east) to[curv] (sx4d.south west) -- (sx4d.south east) (sx4.south east) to[curv] (sx4c.south west) -- (sx4c.south east);

    \node[lbl, anchor=south west] (sx5) at (652,943) {E[foo\textasciicircum="bar"]};
    \node[dsc, above right=6pt and 27pt of sx5.south east] (sx5d) {具有foo属性且属性值以bar开头的E元素};
    \node[dsc, above right=-6pt and 27pt of sx5.south east] (sx5c) {CSS 3};
    \draw[atr] (sx.south east) to[curv] (sx5.south west) -- (sx5.south east) to[curv] (sx5d.south west) -- (sx5d.south east) (sx5.south east) to[curv] (sx5c.south west) -- (sx5c.south east);

    \node[lbl, anchor=south west] (sx6) at (652,971) {E[foo\$="bar"]};
    \node[dsc, above right=6pt and 30pt of sx6.south east] (sx6d) {具有foo属性且属性值以bar结尾的E元素};
    \node[dsc, above right=-6pt and 30pt of sx6.south east] (sx6c) {CSS 3};
    \draw[atr] (sx.south east) to[curv] (sx6.south west) -- (sx6.south east) to[curv] (sx6d.south west) -- (sx6d.south east) (sx6.south east) to[curv] (sx6c.south west) -- (sx6c.south east);

    \node[lbl, anchor=south west] (sx7) at (652,1000) {E[foo*="bar"]};
    \node[dsc, above right=6pt and 30pt of sx7.south east] (sx7d) {具有foo属性且属性值包含bar的E元素};
    \node[dsc, above right=-6pt and 30pt of sx7.south east] (sx7c) {CSS 3};
    \draw[atr] (sx.south east) to[curv] (sx7.south west) -- (sx7.south east) to[curv] (sx7d.south west) -- (sx7d.south east) (sx7.south east) to[curv] (sx7c.south west) -- (sx7c.south east);

    \node[lbl, anchor=south west] (sx8) at (652,1031) {E[foo|="en"]};
    \node[dsc, above right=5pt and 25pt of sx8.south east] (sx8d) {具有foo属性且属性值是以en开头并用连接符“-”分隔\\的字符串的E元素};
    \node[dsc, above right=-6pt and 25pt of sx8.south east] (sx8c) {CSS 2};
    \draw[atr] (sx.south east) to[curv] (sx8.south west) -- (sx8.south east) to[curv] (sx8d.south west) -- (sx8d.south east) (sx8.south east) to[curv] (sx8c.south west) -- (sx8c.south east);

    % watermark
    \draw[black!20, line width=1.2pt] (700,1340) ellipse (13 and 9);
    \fill[black!20] (697,1342) circle (3.5);
    \draw[black!20, line width=1pt] (708,1330) arc[start angle=180, end angle=90, radius=6];
    \draw[black!20, line width=1pt] (711,1331) arc[start angle=180, end angle=90, radius=3];
    \node[anchor=west, font=\fontsize{21}{24}\selectfont, text=black!20] (wm1) at (720,1342) {@sylvia\_linx};
    \node[anchor=west, font=\fontsize{21}{24}\selectfont, text=black!20] (wm2) at (658,1366) {weibo.com/linx428};
\end{tikzpicture}
\end{document}
